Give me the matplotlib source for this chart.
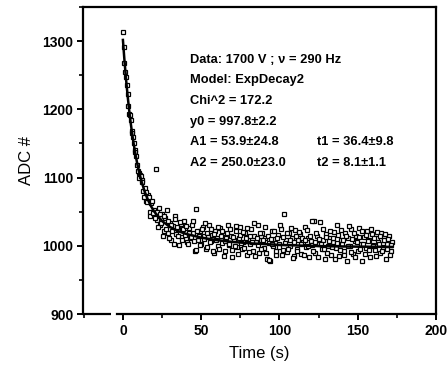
import matplotlib
matplotlib.use("Agg")
import matplotlib.pyplot as plt
from matplotlib.ticker import MultipleLocator

plt.rcParams['font.family'] = ['Liberation Sans', 'DejaVu Sans']

# measured data (time in s, ADC counts), whole-second samples
time_a = list(range(0, 173))
adc_a = [1314, 1268, 1248, 1222, 1193, 1184, 1168, 1150, 1141, 1118,
         1107, 1104, 1097, 1081, 1085, 1066, 1075, 1049, 1062, 1045,
         1052, 1112, 1038, 1055, 1031, 1047, 1021, 1040, 1052, 1019,
         1034, 1008, 1029, 1044, 1017, 1025, 1001, 1032, 1013, 1036,
         1020, 1005, 1026, 1011, 1031, 1018, 992, 1054, 1009, 1021,
         1003, 1027, 1014, 996, 1019, 1030, 1007, 1016, 990, 1022,
         1011, 1000, 1026, 1004, 1018, 993, 1012, 1031, 1001, 1015,
         984, 1008, 1021, 998, 1012, 1027, 995, 1006, 1019, 987,
         1010, 1002, 1024, 993, 1014, 1005, 1030, 989, 1009, 1018,
         997, 1012, 980, 1004, 978, 1021, 999, 1010, 986, 1016,
         1003, 1025, 994, 1047, 1008, 991, 1019, 1000, 1012, 985,
         1023, 996, 1009, 1017, 988, 1005, 1028, 998, 1011, 983,
         1007, 1001, 1036, 990, 1014, 1003, 1035, 995, 1009, 981,
         1017, 999, 1012, 986, 1006, 1020, 997, 1031, 985, 1008,
         1002, 993, 1018, 977, 1011, 999, 1024, 988, 1007, 1015,
         992, 1026, 1003, 978, 1013, 997, 1021, 1008, 984, 1017,
         1001, 994, 1012, 1006, 989, 1019, 998, 1009, 980, 1003,
         1014, 993, 1005]

# half-second samples
time_b = [t + 0.5 for t in range(0, 172)]
adc_b = [1292, 1255, 1236, 1205, 1192, 1166, 1160, 1137, 1131, 1110,
         1099, 1102, 1094, 1072, 1079, 1064, 1071, 1044, 1066, 1048,
         1041, 1050, 1027, 1046, 1033, 1015, 1043, 1024, 1037, 1011,
         1030, 1021, 1003, 1039, 1027, 1014, 1035, 1009, 1024, 1016,
         1029, 1002, 1019, 1013, 1036, 1007, 994, 1022, 1015, 1001,
         1024, 1010, 1033, 998, 1013, 1005, 1025, 993, 1017, 1009,
         1028, 996, 1014, 1021, 985, 1007, 1019, 1003, 1024, 994,
         1013, 1000, 1029, 988, 1016, 1004, 1020, 997, 1011, 1026,
         991, 1015, 1006, 1033, 985, 1012, 1001, 1019, 995, 1008,
         1027, 990, 1014, 979, 1010, 1002, 1022, 993, 1011, 998,
         1030, 987, 1013, 1004, 1018, 996, 1009, 1026, 982, 1006,
         1015, 992, 1020, 1003, 1011, 987, 1008, 1023, 999, 1014,
         1036, 993, 1006, 1019, 984, 1010, 1002, 1025, 996, 1013,
         989, 1007, 1021, 998, 1012, 980, 1004, 1016, 994, 1023,
         1008, 986, 1014, 1000, 1029, 991, 1010, 1019, 983, 1005,
         1013, 996, 1022, 1002, 988, 1016, 1007, 994, 1025, 999,
         1011, 985, 1020, 1003, 1014, 992, 1008, 1017, 996, 1010,
         987, 1001]

# ExpDecay2 fit curve
fit_t = [0, 1, 2, 3, 4, 5, 6, 7, 8, 9, 10, 12, 14, 16, 18, 20, 25, 30, 35,
         40, 50, 60, 70, 80, 100, 120, 140, 160, 172]
fit_y = [1301.7, 1271.2, 1244.1, 1220.0, 1198.7, 1179.6, 1162.7, 1147.7,
         1134.2, 1122.2, 1111.5, 1093.4, 1078.9, 1067.2, 1057.8, 1050.1,
         1036.3, 1027.6, 1021.7, 1017.6, 1011.9, 1008.3, 1005.7, 1003.8,
         1001.3, 999.8, 999.0, 998.5, 998.3]

info_left = ["Data: 1700 V ; ν = 290 Hz", "Model: ExpDecay2", "Chi^2 = 172.2",
             "y0 = 997.8±2.2", "A1 = 53.9±24.8", "A2 = 250.0±23.0"]
info_right = ["t1 = 36.4±9.8", "t2 = 8.1±1.1"]

fig = plt.figure(figsize=(4.47, 3.71), dpi=100)
ax = fig.add_axes([83/447, 1 - 314/371, (436-83)/447, (314-7)/371])

mk = dict(linestyle='none', marker='s', markersize=2.8,
          markerfacecolor='white', markeredgecolor='black', markeredgewidth=0.9)
ax.plot(time_a, adc_a, **mk)
ax.plot(time_b, adc_b, **mk)
ax.plot(fit_t, fit_y, color='black', linewidth=1.8)

ax.set_xlim(-25.5, 200)
ax.set_ylim(900, 1350)
ax.xaxis.set_minor_locator(MultipleLocator(25))
ax.yaxis.set_minor_locator(MultipleLocator(50))
ax.set_xticks([0, 50, 100, 150, 200])
ax.set_yticks([900, 1000, 1100, 1200, 1300])

for s in ax.spines.values():
    s.set_linewidth(1.6)
# axis break on the bottom axis
ax.spines['bottom'].set_bounds(-4, 200)
ax.plot([-25.5, -7.5], [900, 900], color='black', linewidth=1.6,
        clip_on=False, solid_capstyle='butt')

ax.tick_params(which='major', direction='out', length=4, width=1.4,
               labelsize=10, pad=3)
ax.tick_params(which='minor', direction='out', length=3, width=1.2)
for lab in ax.get_xticklabels() + ax.get_yticklabels():
    lab.set_fontweight('bold')

ax.set_xlabel("Time (s)", fontsize=12, labelpad=6)
ax.set_ylabel("ADC #", fontsize=12, labelpad=6)

y0 = 371 - 59.6
for i, line in enumerate(info_left):
    fig.text(190/447, (y0 - i*20.7)/371, line, fontsize=9.3,
             fontweight='bold', va='center', ha='left')
for i, line in enumerate(info_right):
    fig.text(317/447, (y0 - (4+i)*20.7)/371, line, fontsize=9.3,
             fontweight='bold', va='center', ha='left')

fig.savefig("out.png", dpi=100)
